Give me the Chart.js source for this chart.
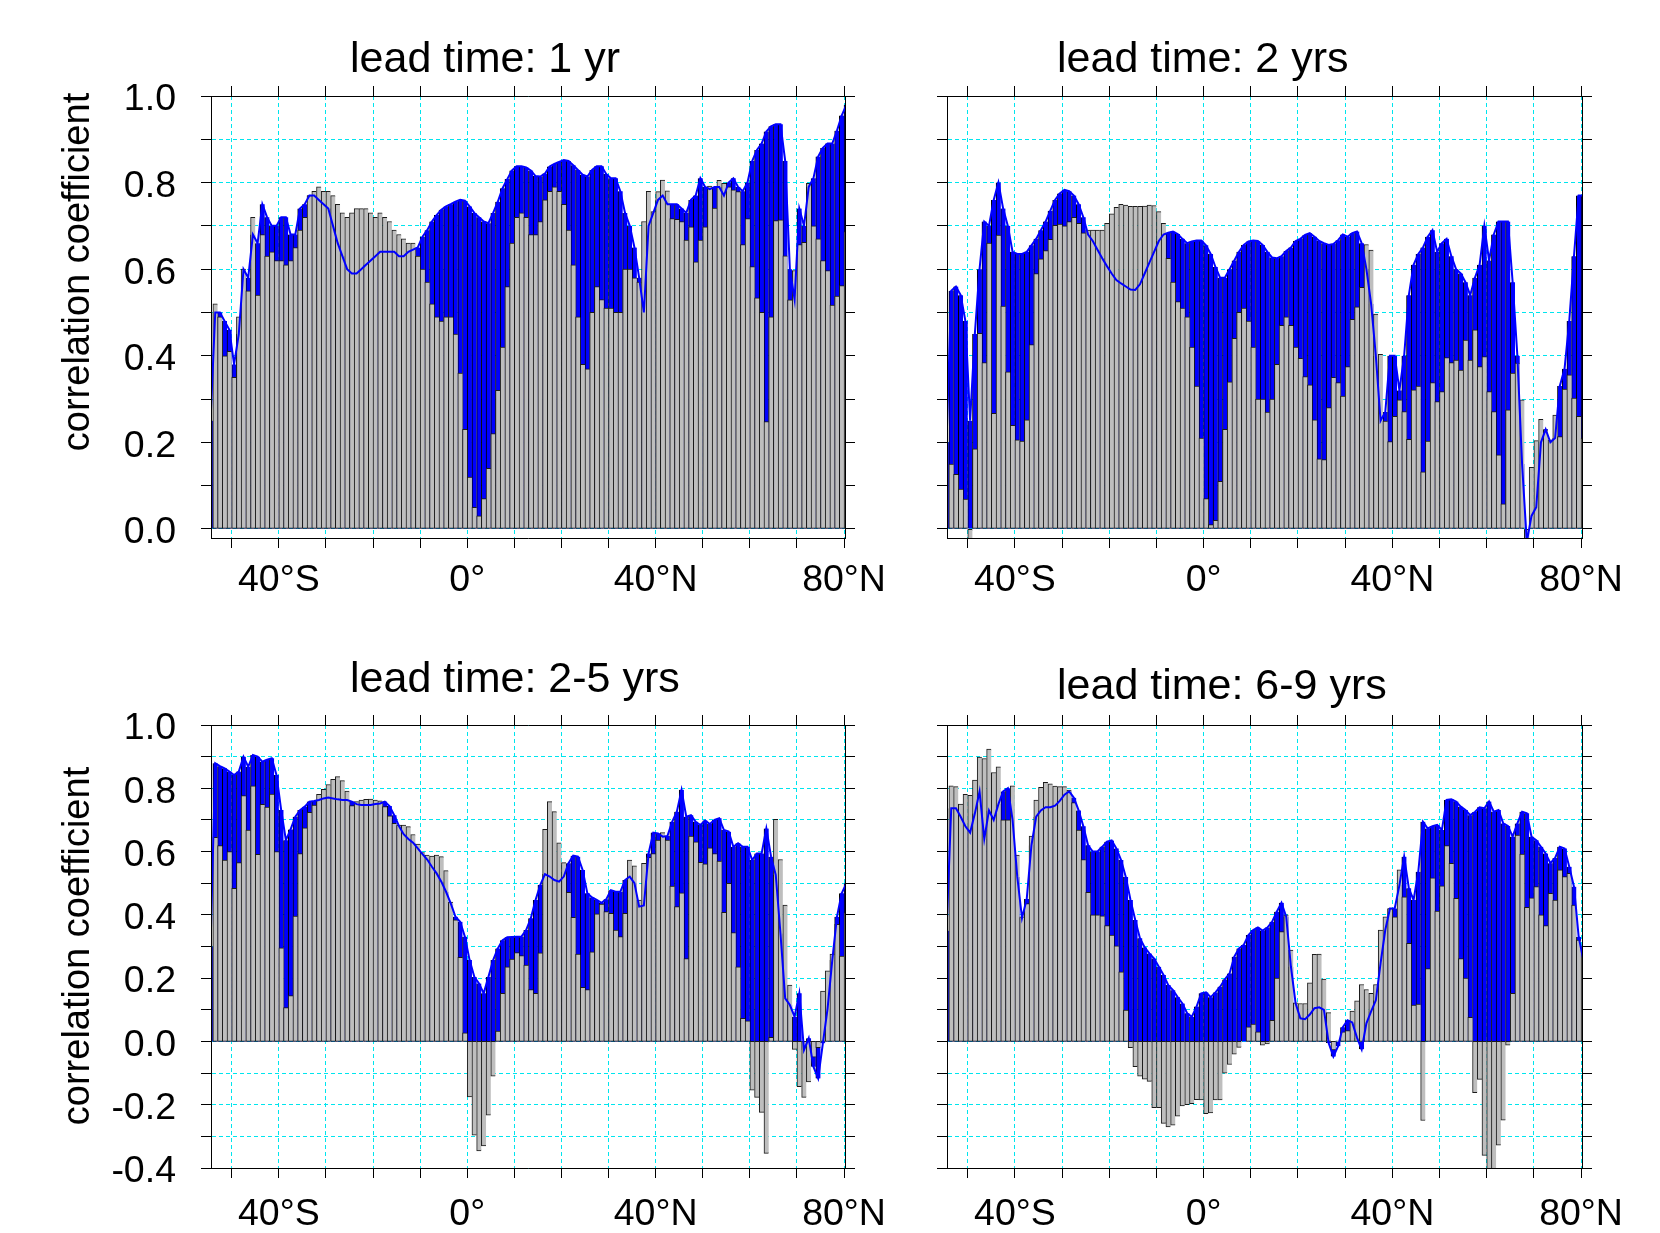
<!DOCTYPE html>
<html>
<head>
<meta charset="utf-8">
<title>Correlation coefficient by latitude</title>
<script src="https://cdn.jsdelivr.net/npm/chart.js@4.4.1/dist/chart.umd.min.js"></script>
<style>
  html, body { margin: 0; padding: 0; background: #fff; }
  #wrap { position: relative; width: 1660px; height: 1233px; }
  canvas { position: absolute; }
</style>
</head>
<body>
<div id="wrap">
  <canvas id="p1" width="903" height="616" style="left:0;top:0"></canvas>
  <canvas id="p2" width="757" height="616" style="left:903px;top:0"></canvas>
  <canvas id="p3" width="903" height="617" style="left:0;top:616px"></canvas>
  <canvas id="p4" width="757" height="617" style="left:903px;top:616px"></canvas>
</div>
<script>
// one bar per degree of latitude, centres -54.5 ... 80.5
const latFirst = -54.5;
const latCount = 136;
const lats = [];
for (let i = 0; i < latCount; i++) lats.push(latFirst + i);

const xTickValues = [-40, 0, 40, 80];
const xTickText = ['40°S', '0°', '40°N', '80°N'];

const titles = ['lead time: 1 yr', 'lead time: 2 yrs', 'lead time: 2-5 yrs', 'lead time: 6-9 yrs'];
const yTitle = 'correlation coefficient';

// lead time 1 yr
const gray1 = [0.0,
  0.52, 0.49, 0.40, 0.41, 0.35, 0.49, 0.60, 0.55, 0.72, 0.54, 0.68, 0.63, 0.64, 0.62, 0.62, 0.61, 0.62, 0.65,
  0.69, 0.72, 0.77, 0.78, 0.79, 0.78, 0.78, 0.77, 0.75, 0.73, 0.72, 0.73, 0.74, 0.74, 0.74, 0.73, 0.72, 0.73,
  0.72, 0.71, 0.69, 0.68, 0.67, 0.66, 0.66, 0.63, 0.60, 0.57, 0.52, 0.49, 0.48, 0.49, 0.49, 0.45, 0.36, 0.23,
  0.12, 0.05, 0.03, 0.07, 0.14, 0.22, 0.32, 0.42, 0.56, 0.66, 0.72, 0.73, 0.72, 0.68, 0.68, 0.71, 0.76, 0.78,
  0.79, 0.78, 0.75, 0.69, 0.61, 0.49, 0.38, 0.37, 0.50, 0.56, 0.53, 0.51, 0.51, 0.50, 0.50, 0.60, 0.60, 0.58,
  0.57, 0.71, 0.78,
  0.733, 0.779, 0.806, 0.781, 0.717, 0.715, 0.71, 0.667, 0.698, 0.617, 0.667, 0.698, 0.792, 0.741, 0.805,
  0.798, 0.79, 0.783, 0.779, 0.657, 0.717, 0.606, 0.534, 0.50, 0.248, 0.49, 0.712, 0.714, 0.631, 0.529,
  0.597, 0.657, 0.662, 0.798, 0.70, 0.67, 0.62, 0.597, 0.517, 0.538, 0.562, 0.687];
const blue1 = [0.25,
  0.50, 0.50, 0.48, 0.46, 0.38, 0.45, 0.60, 0.58, 0.68, 0.66, 0.75, 0.72, 0.70, 0.70, 0.72, 0.72, 0.68, 0.68,
  0.74, 0.75, 0.77, 0.77, 0.76, 0.75, 0.74, 0.70, 0.66, 0.63, 0.60, 0.59, 0.59, 0.60, 0.61, 0.62, 0.63, 0.64,
  0.64, 0.64, 0.64, 0.63, 0.63, 0.64, 0.645, 0.65, 0.675, 0.69, 0.71, 0.725, 0.737, 0.745, 0.75, 0.756, 0.76, 0.758,
  0.745, 0.73, 0.72, 0.71, 0.706, 0.73, 0.756, 0.787, 0.808, 0.828, 0.838, 0.838, 0.835, 0.828, 0.815, 0.814,
  0.821, 0.837, 0.843, 0.848, 0.852, 0.85, 0.84, 0.829, 0.818, 0.814, 0.829, 0.838, 0.838, 0.82, 0.81, 0.81,
  0.78, 0.73, 0.70, 0.65, 0.58, 0.50, 0.70,
  0.73, 0.76, 0.77, 0.75, 0.75, 0.75, 0.74, 0.73, 0.76, 0.77, 0.81, 0.79, 0.785, 0.79, 0.79, 0.77, 0.80, 0.81,
  0.79, 0.78, 0.80, 0.85, 0.875, 0.89, 0.918, 0.93, 0.935, 0.935, 0.85, 0.60, 0.53, 0.74, 0.70, 0.79, 0.81,
  0.86, 0.88, 0.89, 0.89, 0.92, 0.955, 0.98];

// lead time 2 yrs
const gray2 = [0.0,
  0.15, 0.126, 0.092, 0.069, -0.03, 0.185, 0.452, 0.384, 0.66, 0.267, 0.679, 0.515, 0.363, 0.239, 0.206,
  0.203, 0.252, 0.426, 0.59, 0.624, 0.643, 0.669, 0.701, 0.704, 0.70, 0.71, 0.72, 0.706, 0.684, 0.69, 0.69,
  0.69, 0.69, 0.706, 0.728, 0.743, 0.75, 0.748, 0.745, 0.745, 0.745, 0.746, 0.748, 0.747, 0.733, 0.706, 0.625,
  0.57, 0.525, 0.51, 0.49, 0.42, 0.33, 0.21,
  0.07, 0.01, 0.02, 0.11, 0.23, 0.34, 0.44, 0.50, 0.51, 0.48, 0.42, 0.30, 0.30, 0.27, 0.30, 0.38, 0.47, 0.49,
  0.47, 0.42,
  0.394, 0.352, 0.333, 0.252, 0.162, 0.16, 0.28, 0.35, 0.338, 0.307, 0.375, 0.484, 0.513, 0.558, 0.657, 0.644,
  0.496, 0.403, 0.249, 0.202, 0.26, 0.298, 0.271, 0.207, 0.321, 0.33, 0.132, 0.203, 0.338, 0.294, 0.317,
  0.396, 0.384, 0.39, 0.367, 0.436, 0.39, 0.46, 0.375, 0.398, 0.317, 0.271, 0.171, 0.058, 0.275, 0.36, 0.383,
  0.298, -0.03, 0.142, 0.204, 0.253, 0.229, 0.206, 0.263, 0.213, 0.323, 0.356, 0.302, 0.26, 0.209];
const blue2 = [0.2,
  0.55, 0.56, 0.54, 0.48, 0.25, 0.45, 0.60, 0.71, 0.70, 0.76, 0.80, 0.74, 0.70, 0.64, 0.635, 0.635, 0.64, 0.655,
  0.67, 0.69, 0.71, 0.735, 0.76, 0.775, 0.783, 0.78, 0.77, 0.75, 0.72, 0.68, 0.665, 0.645, 0.625, 0.607, 0.59,
  0.575, 0.567, 0.56, 0.553, 0.552, 0.565, 0.59, 0.615, 0.64, 0.665, 0.68, 0.684, 0.687, 0.681, 0.67, 0.66,
  0.664, 0.666, 0.666,
  0.655, 0.635, 0.605, 0.58, 0.58, 0.60, 0.62, 0.64, 0.656, 0.664, 0.666, 0.665, 0.656, 0.64, 0.627, 0.625,
  0.63, 0.642, 0.65, 0.665, 0.67, 0.679, 0.683, 0.675, 0.665, 0.66, 0.656, 0.658, 0.667, 0.68, 0.675, 0.683,
  0.687, 0.66, 0.60, 0.52, 0.40, 0.25, 0.27, 0.40, 0.40, 0.32, 0.40, 0.54, 0.61, 0.635, 0.65, 0.675, 0.69,
  0.64, 0.66, 0.67, 0.63, 0.60, 0.59, 0.57, 0.54, 0.58, 0.61, 0.70, 0.62, 0.68, 0.71, 0.71, 0.71, 0.57, 0.40,
  0.15, -0.03, 0.03, 0.05, 0.20, 0.23, 0.20, 0.21, 0.33, 0.37, 0.48, 0.63, 0.77, 0.77];

// lead time 2-5 yrs
const gray3 = [0.0,
  0.645, 0.619, 0.573, 0.60, 0.484, 0.565, 0.777, 0.668, 0.808, 0.591, 0.749, 0.741, 0.782, 0.60, 0.296,
  0.107, 0.145, 0.396, 0.594, 0.675, 0.724, 0.747, 0.781, 0.797, 0.812, 0.828, 0.837, 0.824, 0.791, 0.745,
  0.758, 0.763, 0.765, 0.766, 0.763, 0.76, 0.742, 0.713, 0.689, 0.684, 0.684, 0.679, 0.654, 0.624, 0.597,
  0.589, 0.586, 0.589, 0.584, 0.54, 0.44, 0.384, 0.266, 0.027,
  -0.175, -0.296, -0.346, -0.33, -0.233, -0.11, 0.033, 0.152, 0.236, 0.26, 0.281, 0.271, 0.241, 0.164, 0.152,
  0.28, 0.67, 0.758, 0.726, 0.628, 0.565, 0.471, 0.392, 0.276, 0.171, 0.164, 0.283, 0.403, 0.434, 0.41, 0.405,
  0.352, 0.331, 0.405, 0.573, 0.555, 0.447, 0.563, 0.582, 0.594, 0.636, 0.66, 0.636, 0.491, 0.426, 0.47,
  0.262, 0.649, 0.631, 0.566, 0.561, 0.612, 0.594, 0.57, 0.408, 0.50, 0.344, 0.236, 0.073, 0.065, -0.154,
  -0.177, -0.224, -0.354, 0.013, 0.702, 0.575, 0.431, 0.178, -0.025, -0.143, -0.177, -0.128, -0.05, -0.02,
  0.159, 0.223, 0.276, 0.37, 0.27, 0.407];
const blue3 = [0.3,
  0.879, 0.87, 0.863, 0.853, 0.842, 0.853, 0.90, 0.868, 0.905, 0.90, 0.884, 0.89, 0.895, 0.842, 0.731, 0.636,
  0.67, 0.71, 0.731, 0.742, 0.758, 0.76, 0.763, 0.768, 0.771, 0.768, 0.765, 0.763, 0.763, 0.758, 0.75, 0.747,
  0.747, 0.747, 0.75, 0.752, 0.758, 0.744, 0.715, 0.681, 0.655, 0.64, 0.628, 0.61, 0.592, 0.575, 0.552, 0.531,
  0.505, 0.473, 0.436, 0.394, 0.378, 0.331,
  0.257, 0.204, 0.183, 0.152, 0.204, 0.257, 0.294, 0.32, 0.329, 0.33, 0.331, 0.331, 0.352, 0.389, 0.447, 0.494,
  0.529, 0.521, 0.51, 0.505, 0.521, 0.563, 0.587, 0.584, 0.542, 0.468, 0.455, 0.447, 0.438, 0.449, 0.478,
  0.473, 0.473, 0.51, 0.521, 0.50, 0.426, 0.43, 0.594, 0.66, 0.657, 0.647, 0.649, 0.694, 0.726, 0.795, 0.71,
  0.715, 0.694, 0.684, 0.698, 0.687, 0.70, 0.705, 0.668, 0.663, 0.615, 0.626, 0.615, 0.615, 0.573, 0.594,
  0.594, 0.673, 0.584, 0.526, 0.341, 0.136, 0.115, 0.078, 0.152, -0.027, 0.01, -0.08, -0.117, -0.006, 0.104,
  0.257, 0.394, 0.468, 0.5];

// lead time 6-9 yrs
const gray4 = [0.0,
  0.808, 0.805, 0.75, 0.781, 0.778, 0.826, 0.899, 0.894, 0.924, 0.85, 0.868, 0.70, 0.70, 0.808, 0.589, 0.394,
  0.436, 0.649, 0.763, 0.803, 0.819, 0.814, 0.807, 0.805, 0.805, 0.794, 0.755, 0.668, 0.575, 0.471, 0.40,
  0.40, 0.397, 0.366, 0.336, 0.302, 0.22, 0.099, -0.02, -0.08, -0.11, -0.119, -0.126, -0.209, -0.209, -0.259,
  -0.27, -0.265, -0.236, -0.204, -0.2, -0.197, -0.184, -0.185,
  -0.228, -0.226, -0.185, -0.185, -0.10, -0.073, -0.04, -0.019, 0.0, 0.046, 0.055, 0.03, -0.012, -0.008,
  0.067, 0.2, 0.347, 0.40, 0.289, 0.122, 0.12, 0.12, 0.185, 0.275, 0.276, 0.197, 0.091, -0.027, 0.002, 0.03,
  0.034, 0.096, 0.128, 0.18, 0.164, 0.152, 0.18, 0.352, 0.394, 0.42, 0.394, 0.542, 0.457, 0.31, 0.115, 0.118,
  -0.25, 0.23, 0.517, 0.412, 0.492, 0.619, 0.563, 0.452, 0.262, 0.2, 0.076, -0.162, -0.12, -0.36, -0.42,
  -0.41, -0.328, -0.249, -0.012, 0.152, 0.652, 0.592, 0.424, 0.454, 0.489, 0.40, 0.366, 0.468, 0.447, 0.542,
  0.521, 0.531, 0.431, 0.32, 0.30];
const blue4 = [0.35,
  0.737, 0.737, 0.71, 0.68, 0.66, 0.72, 0.79, 0.64, 0.73, 0.70, 0.75, 0.79, 0.80, 0.70, 0.52, 0.39, 0.45,
  0.62, 0.71, 0.73, 0.74, 0.74, 0.745, 0.76, 0.78, 0.79, 0.77, 0.73, 0.68, 0.62, 0.60, 0.60, 0.615, 0.631,
  0.635, 0.61, 0.573, 0.52, 0.447, 0.384, 0.326, 0.297, 0.278, 0.262, 0.236, 0.21, 0.178, 0.162, 0.14, 0.12,
  0.089, 0.078, 0.11, 0.152,
  0.155, 0.14, 0.155, 0.173, 0.196, 0.215, 0.268, 0.294, 0.305, 0.336, 0.352, 0.36, 0.35, 0.36, 0.378, 0.41,
  0.438, 0.394, 0.236, 0.12, 0.073, 0.07, 0.085, 0.105, 0.108, 0.10, -0.005, -0.048, -0.015, 0.045, 0.067,
  0.06, 0.012, -0.025, 0.057, 0.095, 0.13, 0.247, 0.352, 0.42, 0.42, 0.494, 0.584, 0.484, 0.447, 0.536,
  0.694, 0.673, 0.68, 0.684, 0.668, 0.763, 0.765, 0.758, 0.742, 0.731, 0.715, 0.725, 0.74, 0.737, 0.758,
  0.726, 0.731, 0.689, 0.681, 0.647, 0.689, 0.726, 0.721, 0.647, 0.636, 0.615, 0.594, 0.563, 0.58, 0.615,
  0.61, 0.552, 0.489, 0.33, 0.257];

const BLUE = '#0000ff';
const CYAN = '#00e5ee';
const FONT = '"Liberation Sans", Arial, Helvetica, sans-serif';
Chart.defaults.font.family = FONT;
Chart.defaults.color = '#000';

// title and y axis title, drawn at fixed spots on each canvas
const panelText = {
  id: 'panelText',
  afterDraw(chart, args, o) {
    const ctx = chart.ctx;
    ctx.save();
    ctx.fillStyle = '#000';
    ctx.font = '43px ' + FONT;
    ctx.textBaseline = 'alphabetic';
    ctx.textAlign = 'left';
    ctx.fillText(o.title, o.tx, o.ty);
    if (o.ylabel) {
      ctx.font = '38px ' + FONT;
      ctx.translate(o.lx, o.ly);
      ctx.rotate(-Math.PI / 2);
      ctx.textAlign = 'center';
      ctx.textBaseline = 'middle';
      ctx.fillText(o.ylabel, 0, 0);
    }
    ctx.restore();
  }
};

const toXY = vals => vals.map((v, i) => ({ x: lats[i], y: v }));

function xLabel(v) {
  const i = xTickValues.indexOf(Math.round(v));
  return i >= 0 ? xTickText[i] : '';
}
function yLabel(v) {
  const r = Math.round(v * 10);
  return r % 2 === 0 ? (r / 10).toFixed(1) : '';
}

function makePanel(id, p) {
  const xMin = -54.4, xMax = 80.2;
  const tickGrid = { tickColor: '#000', tickLength: 10, tickWidth: 1 };
  new Chart(document.getElementById(id), {
    type: 'bar',
    data: {
      datasets: [
        { type: 'line', data: toXY(p.blue), borderColor: BLUE, borderWidth: 2, pointRadius: 0,
          tension: 0, order: 0, clip: 0 },
        { data: toXY(p.gray), backgroundColor: '#bebebe', borderColor: '#1a1a1a',
          borderWidth: { left: 1, top: 1, bottom: 1, right: 0 }, borderSkipped: false,
          grouped: false, barPercentage: 1, categoryPercentage: 1, order: 1, clip: 0 },
        { data: toXY(p.blue), backgroundColor: BLUE, borderColor: '#000',
          borderWidth: { left: 1, top: 0, bottom: 0, right: 0 }, borderSkipped: false,
          grouped: false, barPercentage: 1, categoryPercentage: 1, order: 2, clip: 0 }
      ]
    },
    options: {
      responsive: false,
      animation: false,
      layout: { padding: 0 },
      plugins: {
        legend: { display: false },
        tooltip: { enabled: false },
        panelText: p.text
      },
      scales: {
        x: {
          type: 'linear', min: xMin, max: xMax, offset: false,
          grid: { offset: false, color: CYAN, lineWidth: 1, ...tickGrid },
          border: { color: '#000', width: 1, dash: [4, 3], z: 1 },
          ticks: { stepSize: 10, includeBounds: false, autoSkip: false, maxRotation: 0,
                   font: { size: 37.5 }, padding: p.xPad, callback: xLabel },
          afterFit: s => { s.height = p.xH; }
        },
        x2: {
          type: 'linear', position: 'top', min: xMin, max: xMax, offset: false,
          grid: { offset: false, drawOnChartArea: false, ...tickGrid },
          border: { color: '#000', width: 1, z: 1 },
          ticks: { display: false, stepSize: 10, includeBounds: false },
          afterFit: s => { s.height = p.topH; }
        },
        y: {
          type: 'linear', min: p.yMin, max: 1,
          grid: { color: CYAN, lineWidth: 1, ...tickGrid },
          border: { color: '#000', width: 1, dash: [4, 3], z: 1 },
          ticks: { display: p.labels, stepSize: 0.1, includeBounds: false, autoSkip: false,
                   font: { size: 37.5 }, padding: 25, labelOffset: 4, callback: yLabel },
          afterFit: s => { s.width = p.leftW; }
        },
        y2: {
          type: 'linear', position: 'right', min: p.yMin, max: 1,
          grid: { drawOnChartArea: false, ...tickGrid },
          border: { color: '#000', width: 1, z: 1 },
          ticks: { display: false, stepSize: 0.1, includeBounds: false },
          afterFit: s => { s.width = p.rightW; }
        }
      }
    },
    plugins: [panelText]
  });
}

makePanel('p1', { gray: gray1, blue: blue1, yMin: -0.021, labels: true, leftW: 211, rightW: 58, topH: 96, xH: 78, xPad: 10,
  text: { title: titles[0], tx: 350, ty: 72, ylabel: yTitle, lx: 79, ly: 272 } });
makePanel('p2', { gray: gray2, blue: blue2, yMin: -0.021, labels: false, leftW: 44, rightW: 78, topH: 96, xH: 78, xPad: 10,
  text: { title: titles[1], tx: 154, ty: 72 } });
makePanel('p3', { gray: gray3, blue: blue3, yMin: -0.4, labels: true, leftW: 211, rightW: 58, topH: 109, xH: 65, xPad: 14,
  text: { title: titles[2], tx: 350, ty: 76, ylabel: yTitle, lx: 79, ly: 330 } });
makePanel('p4', { gray: gray4, blue: blue4, yMin: -0.4, labels: false, leftW: 44, rightW: 78, topH: 109, xH: 65, xPad: 14,
  text: { title: titles[3], tx: 154, ty: 83 } });
</script>
</body>
</html>
